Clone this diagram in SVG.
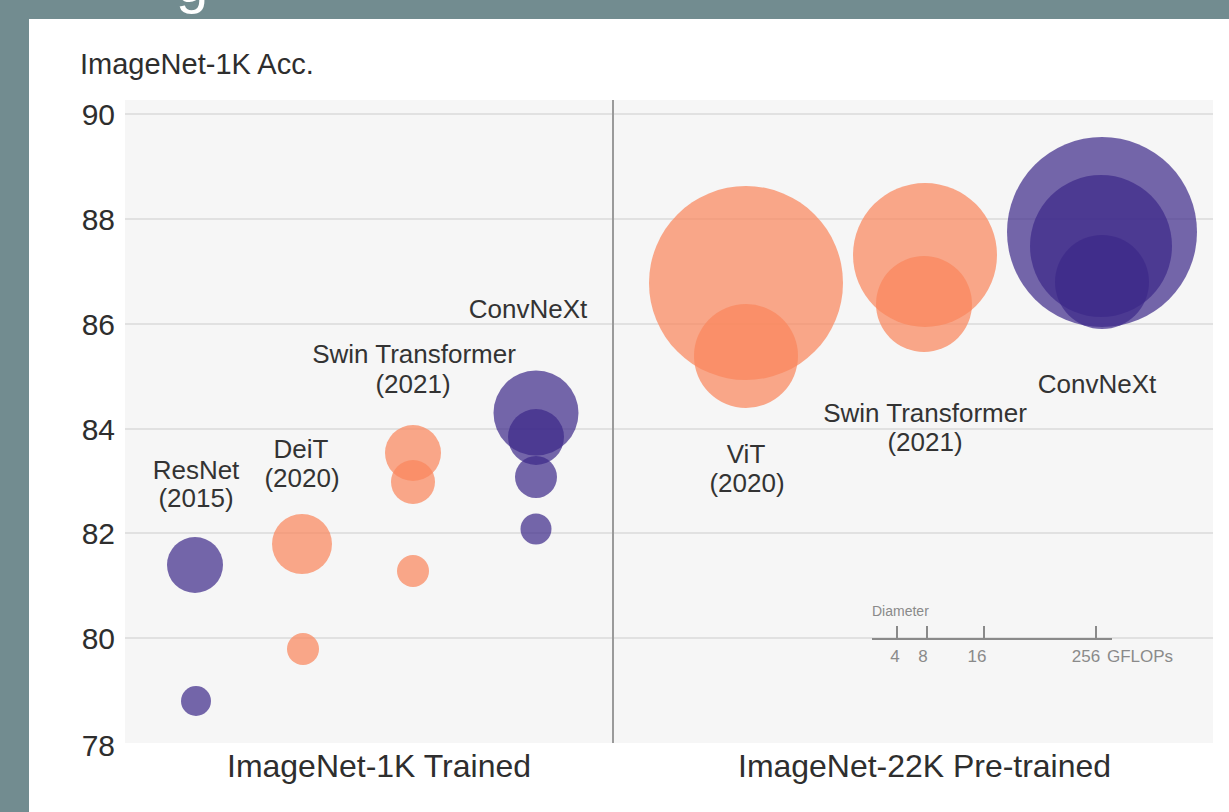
<svg xmlns="http://www.w3.org/2000/svg" width="1229" height="812" viewBox="0 0 1229 812">
<style>
  text { font-family: "Liberation Sans", Arial, sans-serif; }
  .tick { font-size: 30px; fill: #2e2e2e; text-anchor: end; }
  .ttl { font-size: 32px; fill: #2e2e2e; }
  .ann { font-size: 26px; fill: #333; text-anchor: middle; }
  .grid { stroke: #e1e1e1; stroke-width: 2; }
  .or { fill: #fa875d; fill-opacity: 0.72; }
  .pu { fill: #3c2889; fill-opacity: 0.7; }
  .leg { font-size: 17px; fill: #8a8a8a; text-anchor: middle; }
</style>
<rect x="0" y="0" width="1229" height="812" fill="#728c90"/>
<text x="176" y="2" font-size="58" fill="#ffffff" style="font-family:'Liberation Sans',Arial,sans-serif">g</text>
<rect x="29" y="19" width="1200" height="793" fill="#ffffff"/>

<g id="plot-area">
  <rect x="125" y="100" width="1088" height="643" fill="#f6f6f6"/>
  <line class="grid" x1="125" y1="114" x2="1213" y2="114"/>
  <line class="grid" x1="125" y1="219" x2="1213" y2="219"/>
  <line class="grid" x1="125" y1="324" x2="1213" y2="324"/>
  <line class="grid" x1="125" y1="429" x2="1213" y2="429"/>
  <line class="grid" x1="125" y1="533" x2="1213" y2="533"/>
  <line class="grid" x1="125" y1="638" x2="1213" y2="638"/>
  <line x1="613" y1="100" x2="613" y2="743" stroke="#9a9a9a" stroke-width="2"/>
</g>

<g id="axis">
  <text x="80" y="74" style="font-size:29px;fill:#2e2e2e">ImageNet-1K Acc.</text>
  <text class="tick" x="115" y="125">90</text>
  <text class="tick" x="115" y="230">88</text>
  <text class="tick" x="115" y="335">86</text>
  <text class="tick" x="115" y="440">84</text>
  <text class="tick" x="115" y="544">82</text>
  <text class="tick" x="115" y="649">80</text>
  <text class="tick" x="115" y="756">78</text>
  <text class="ttl" x="227" y="777" textLength="304" lengthAdjust="spacingAndGlyphs">ImageNet-1K Trained</text>
  <text class="ttl" x="738" y="777" textLength="373" lengthAdjust="spacingAndGlyphs">ImageNet-22K Pre-trained</text>
</g>

<g id="resnet">
  <circle class="pu" cx="196" cy="701" r="15"/>
  <circle class="pu" cx="195" cy="565" r="28"/>
  <text class="ann" x="196" y="479">ResNet</text>
  <text class="ann" x="196" y="507">(2015)</text>
</g>

<g id="deit">
  <circle class="or" cx="303" cy="649" r="16"/>
  <circle class="or" cx="302" cy="544" r="30"/>
  <text class="ann" x="301" y="458">DeiT</text>
  <text class="ann" x="302" y="487">(2020)</text>
</g>

<g id="swin-1k">
  <circle class="or" cx="413" cy="571" r="16"/>
  <circle class="or" cx="413" cy="482" r="22"/>
  <circle class="or" cx="413" cy="453" r="28"/>
  <text class="ann" x="414" y="363">Swin Transformer</text>
  <text class="ann" x="413" y="393">(2021)</text>
</g>

<g id="convnext-1k">
  <circle class="pu" cx="536" cy="529" r="15.5"/>
  <circle class="pu" cx="536" cy="477" r="21"/>
  <circle class="pu" cx="536" cy="437" r="28"/>
  <circle class="pu" cx="536" cy="413" r="42.5"/>
  <text class="ann" x="528" y="318">ConvNeXt</text>
</g>

<g id="vit-22k">
  <circle class="or" cx="746" cy="283" r="97"/>
  <circle class="or" cx="746" cy="356" r="52"/>
  <text class="ann" x="746" y="463">ViT</text>
  <text class="ann" x="747" y="492">(2020)</text>
</g>

<g id="swin-22k">
  <circle class="or" cx="925" cy="255" r="72"/>
  <circle class="or" cx="924" cy="304" r="48"/>
  <text class="ann" x="925" y="422">Swin Transformer</text>
  <text class="ann" x="925" y="451">(2021)</text>
</g>

<g id="convnext-22k">
  <circle class="pu" cx="1102" cy="232" r="95"/>
  <circle class="pu" cx="1101" cy="246" r="71"/>
  <circle class="pu" cx="1102" cy="282" r="47"/>
  <text class="ann" x="1097" y="393">ConvNeXt</text>
</g>

<g id="legend">
  <text x="872" y="616" style="font-size:14px;fill:#8a8a8a">Diameter</text>
  <line x1="872" y1="639" x2="1112" y2="639" stroke="#8a8a8a" stroke-width="2"/>
  <line x1="897" y1="626" x2="897" y2="639" stroke="#8a8a8a" stroke-width="2"/>
  <line x1="927" y1="626" x2="927" y2="639" stroke="#8a8a8a" stroke-width="2"/>
  <line x1="984" y1="626" x2="984" y2="639" stroke="#8a8a8a" stroke-width="2"/>
  <line x1="1096" y1="626" x2="1096" y2="639" stroke="#8a8a8a" stroke-width="2"/>
  <text class="leg" x="895" y="662">4</text>
  <text class="leg" x="923" y="662">8</text>
  <text class="leg" x="977" y="662">16</text>
  <text class="leg" x="1086" y="662">256</text>
  <text x="1107" y="662" style="font-size:17px;fill:#8a8a8a">GFLOPs</text>
</g>
</svg>
